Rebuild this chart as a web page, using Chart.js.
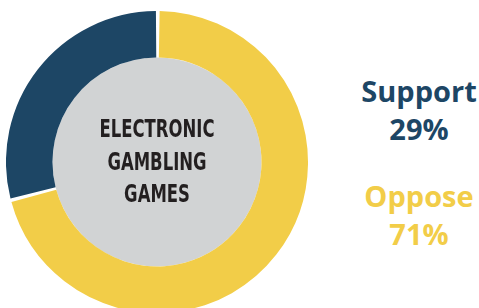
<!DOCTYPE html>
<html>
<head>
<meta charset="utf-8">
<script src="https://cdn.jsdelivr.net/npm/chart.js@4"></script>
<style>
  html, body { margin: 0; padding: 0; background: #fff; width: 479px; height: 308px; overflow: hidden; }
  #wrap { position: absolute; left: 6px; top: 11px; width: 302px; height: 302px; }
  #legend { position: absolute; left: 349px; top: 72px; width: 140px; text-align: center; font-family: "Open Sans", sans-serif; font-weight: 700; font-size: 29px; line-height: 38px; }
  .item { margin-bottom: 29px; }
</style>
</head>
<body>
<div id="wrap"><canvas id="donut"></canvas></div>
<div id="legend"></div>
<script>
  const categories = ["Oppose", "Support"];
  const values = [71, 29];
  const colors = ["#f2cd48", "#1d4665"];
  const centerLines = ["ELECTRONIC", "GAMBLING", "GAMES"];
  const legendOrder = [1, 0];

  const legend = document.getElementById("legend");
  legendOrder.forEach(i => {
    let div = document.createElement("div");
    div.className = "item";
    div.style.color = colors[i];
    div.innerHTML = `${categories[i]}<br>${values[i]}%`;
    legend.appendChild(div);
  });

  // grey disc and title inside the hole
  const centerPlugin = {
    id: "centerCircle",
    beforeDatasetsDraw(chart) {
      let arc = chart.getDatasetMeta(0).data[0];
      let ctx = chart.ctx;
      ctx.save();
      ctx.beginPath();
      ctx.arc(arc.x, arc.y, arc.innerRadius + 1, 0, Math.PI * 2);
      ctx.fillStyle = "#d1d3d4";
      ctx.fill();
      ctx.fillStyle = "#231f20";
      ctx.font = "bold 25px 'DejaVu Sans', sans-serif";
      ctx.textAlign = "center";
      ctx.textBaseline = "middle";
      // squeeze to look like a condensed face
      let sx = 115 / ctx.measureText(centerLines[0]).width;
      ctx.translate(arc.x, arc.y + 1);
      ctx.scale(sx, 1);
      centerLines.forEach((line, i) => {
        ctx.fillText(line, 0, (i - 1) * 32.5);
      });
      ctx.restore();
    }
  };

  new Chart(document.getElementById("donut").getContext("2d"), {
    type: "doughnut",
    data: {
      labels: categories,
      datasets: [{
        data: values,
        backgroundColor: colors,
        borderWidth: 0,
        spacing: 2
      }]
    },
    options: {
      responsive: true,
      maintainAspectRatio: false,
      animation: false,
      cutout: "69%",
      layout: { padding: 0 },
      plugins: {
        legend: { display: false },
        tooltip: { enabled: false }
      }
    },
    plugins: [centerPlugin]
  });
</script>
</body>
</html>
